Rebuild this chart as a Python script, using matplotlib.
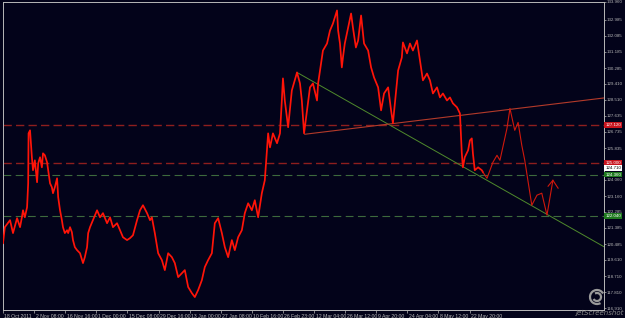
import matplotlib
matplotlib.use("Agg")
import matplotlib.pyplot as plt
import matplotlib.transforms as mtransforms
from matplotlib.patches import Arc

# ---------------- data ----------------
bars = [0, 5, 19, 27, 38, 46, 51, 54, 59, 65, 68, 69, 73, 78, 81, 86, 92, 95, 100, 105,
        108, 113, 119, 122, 127, 132, 135, 140, 146, 149, 154, 159, 162, 167, 173, 176, 181, 186, 189, 194,
        200, 208, 216, 221, 227, 230, 235, 243, 254, 262, 270, 281, 289, 297, 308, 316, 324, 335, 343, 351,
        362, 370, 378, 389, 397, 402, 410, 419, 429, 437, 446, 456, 464, 473, 483, 491, 500, 510, 518, 527,
        537, 545, 554, 564, 572, 581, 591, 599, 608, 618, 626, 635, 645, 653, 662, 672, 680, 689, 699, 707,
        716, 721, 729, 740, 748, 753, 756, 761, 770, 780, 788, 794, 802, 807, 813, 821, 829, 837, 848, 851,
        856, 864, 875, 883, 891, 902, 905, 910, 915, 918, 923, 932, 940, 945, 953, 959, 967, 972, 975, 986,
        994, 1002, 1013, 1021, 1029, 1040, 1048, 1053, 1061, 1067, 1077, 1080, 1091, 1099, 1107, 1118, 1126, 1134, 1145, 1153,
        1161, 1172, 1180, 1188, 1199, 1207, 1215, 1226, 1234, 1239, 1242, 1247, 1256, 1261, 1266, 1269, 1274, 1283, 1293, 1296]
close = [120.54, 121.43, 121.82, 121.10, 121.93, 121.43, 121.98, 122.37, 121.98, 122.54, 123.87, 126.65, 126.82, 125.32, 124.60, 125.15, 123.93, 124.98, 125.32, 124.76,
         125.54, 125.43, 125.04, 124.60, 123.87, 123.65, 123.32, 123.65, 124.15, 123.10, 122.37, 121.82, 121.43, 121.10, 121.26, 121.10, 121.43, 121.15, 120.71, 120.32,
         120.15, 119.98, 119.43, 119.76, 120.32, 121.10, 121.43, 121.82, 122.37, 121.98, 122.21, 121.65, 121.98, 121.43, 121.65, 121.26, 120.87, 120.71, 120.82, 120.98,
         121.82, 122.37, 122.65, 122.21, 121.82, 121.98, 121.10, 119.98, 119.60, 119.04, 119.98, 119.76, 119.43, 118.65, 118.87, 119.04, 118.10, 117.76, 117.54, 117.93,
         118.48, 119.21, 119.60, 119.98, 121.65, 121.93, 121.10, 120.32, 119.76, 120.71, 120.15, 120.87, 121.26, 122.21, 122.76, 122.37, 122.93, 121.98, 123.32, 124.04,
         126.65, 125.87, 126.65, 126.10, 126.65, 128.48, 129.71, 128.48, 126.99, 129.04, 129.60, 130.04, 129.43, 128.48, 126.65, 127.93, 129.21, 129.43, 128.48, 129.43,
         130.15, 131.26, 131.65, 132.37, 132.76, 133.49, 132.37, 131.65, 130.32, 130.87, 131.65, 132.54, 133.32, 132.54, 131.43, 131.82, 133.21, 132.21, 131.65, 131.26,
         130.32, 129.76, 129.21, 127.93, 128.87, 129.21, 127.93, 127.21, 128.87, 130.15, 130.87, 131.71, 131.10, 131.65, 131.26, 131.82, 130.71, 129.60, 129.98, 129.60,
         128.87, 129.21, 128.65, 128.87, 128.48, 128.65, 128.32, 128.10, 127.76, 125.54, 124.76, 125.32, 125.71, 126.26, 126.37, 125.54, 124.60, 124.76, 124.60, 124.49]

# hand-drawn projection and its arrow head
proj_bars = [1296, 1307, 1323, 1334, 1342, 1361, 1369, 1382, 1391, 1401, 1409, 1428, 1442, 1455, 1469, 1485]
proj_prices = [124.49, 124.15, 125.04, 125.43, 125.15, 126.93, 128.04, 126.82, 127.26, 125.98, 125.15, 122.65, 123.21, 123.32, 122.10, 124.04]
arrow_bars = [1472, 1485, 1499]
arrow_prices = [123.71, 124.04, 123.60]

# trend lines (start, end)
green_trend_bars = [794, 1623]
green_trend_prices = [130.04, 120.34]
red_trend_bars = [815, 1623]
red_trend_prices = [126.60, 128.62]

# horizontal levels
red_levels = [127.12, 125.00]
green_levels = [124.36, 122.04]
red_level_labels = ["127.120", "125.000"]
green_level_labels = ["124.360", "122.040"]
bid_price = 124.71
bid_label = "124.710"

# axis ticks
y_ticks = [133.960, 132.985, 132.085, 131.185, 130.285, 129.410, 128.510, 127.635, 126.735,
           125.835, 124.935, 124.060, 123.160, 122.285, 121.385, 120.485, 119.610, 118.710,
           117.810, 116.910]
x_tick_bars = [0, 84, 168, 252, 336, 420, 504, 588, 672, 756, 840, 924, 1008, 1092, 1176, 1260]
x_tick_labels = ["18 Oct 2011", "2 Nov 08:00", "16 Nov 16:00", "1 Dec 00:00", "15 Dec 08:00",
                 "29 Dec 16:00", "13 Jan 00:00", "27 Jan 08:00", "10 Feb 16:00", "26 Feb 23:00",
                 "12 Mar 04:00", "26 Mar 12:00", "9 Apr 20:00", "24 Apr 04:00", "8 May 12:00",
                 "22 May 20:00"]

# ---------------- drawing ----------------
plt.rcParams["font.family"] = ["Liberation Sans Narrow", "Liberation Sans", "DejaVu Sans"]
BG = "#03031a"
AXC = "#b8b8b8"
FS = 3.7
FSY = 3.2
fig = plt.figure(figsize=(6.25, 3.18), dpi=100, facecolor=BG)
ax = fig.add_axes([3 / 625, 8 / 318, 601 / 625, 308 / 318])
ax.set_facecolor(BG)
ax.set_xlim(0, 1623)
ax.set_ylim(116.82, 133.93)

for lv in red_levels:
    ax.axhline(lv, color="#8e1e1e", lw=1.0, ls=(0, (6, 3)), zorder=1)
for lv in green_levels:
    ax.axhline(lv, color="#3d6a3d", lw=0.8, ls=(0, (7, 4)), zorder=1)

ax.plot(green_trend_bars, green_trend_prices, color="#4f8a2c", lw=0.7, zorder=2)
ax.plot(red_trend_bars, red_trend_prices, color="#b33a2a", lw=0.8, zorder=2)

ax.plot(bars, close, color="#ff1408", lw=1.25, zorder=3)
ax.plot(proj_bars, proj_prices, color="#d0180c", lw=0.8, zorder=3)
ax.plot(arrow_bars, arrow_prices, color="#d0180c", lw=0.8, zorder=3)

for s in ax.spines.values():
    s.set_color(AXC)
    s.set_linewidth(0.7)

ax.yaxis.tick_right()
ax.set_yticks(y_ticks)
ax.set_yticklabels([f"{v:.3f}" for v in y_ticks])
ax.tick_params(axis="y", colors=AXC, labelsize=FSY, length=1.5, width=0.5, pad=0.6)

ax.set_xticks(x_tick_bars)
ax.set_xticklabels(x_tick_labels, ha="left")
ax.tick_params(axis="x", colors=AXC, labelsize=FS, length=2.5, width=0.5, pad=0.3)
off = mtransforms.ScaledTranslation(1.5 / 100, 0, fig.dpi_scale_trans)
for lab in ax.get_xticklabels():
    lab.set_transform(lab.get_transform() + off)

trans = mtransforms.blended_transform_factory(ax.transAxes, ax.transData)
def tag(y, text, fc, tc):
    ax.text(1.002, y, text, transform=trans, fontsize=FSY, color=tc, va="center", ha="left",
            bbox=dict(boxstyle="square,pad=0.2", fc=fc, ec="none"), zorder=5, clip_on=False)

for lv, lb in zip(red_levels, red_level_labels):
    tag(lv, lb, "#c8141e", "#ffffff")
tag(bid_price, bid_label, "#ffffff", "#000000")
for lv, lb in zip(green_levels, green_level_labels):
    tag(lv, lb, "#1f7a1f", "#ffffff")

# watermark
fig.text(0.998, 0.006, "jetScreenshot", fontsize=5.0, style="italic", color="#8a8a8a",
         ha="right", va="bottom", zorder=10, family="DejaVu Sans")
for r, a1, a2 in [(7, 30, 300), (4, 210, 120)]:
    fig.patches.append(Arc((597, 21), 2 * r, 2 * r, theta1=a1, theta2=a2,
                           transform=None, color="#9a9a9a", lw=1.6))

fig.savefig("out.png", dpi=100, facecolor=BG)
